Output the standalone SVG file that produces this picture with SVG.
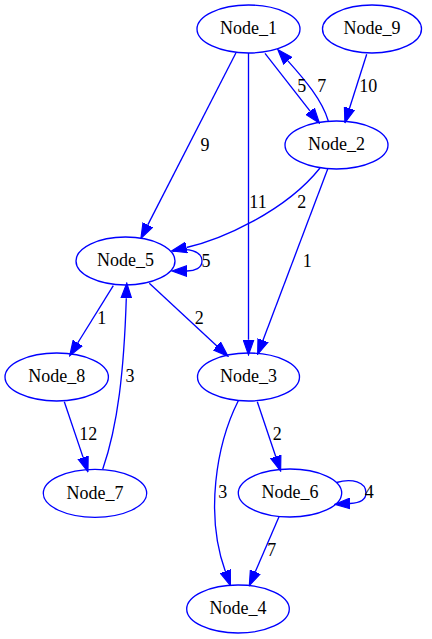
<svg xmlns="http://www.w3.org/2000/svg" width="432" height="639" viewBox="0 0 432 639">
<style>
.n ellipse{fill:none;stroke:#0000ff;stroke-width:1.33}
text{font-family:"Liberation Serif","Times New Roman",serif;font-size:18px;fill:#000;text-anchor:middle}
.e path{fill:none;stroke:#0000ff;stroke-width:1.33;marker-end:url(#ah)}
</style>
<defs>
<marker id="ah" markerUnits="userSpaceOnUse" markerWidth="16" markerHeight="12" refX="0" refY="4.7" orient="auto" viewBox="0 0 14 9.4">
<path d="M0,0 L13.3,4.7 L0,9.4 Z" fill="#0000ff" stroke="#0000ff" stroke-width="1"/>
</marker>
</defs>
<rect width="432" height="639" fill="#fff"/>
<g id="edges" class="e">
<path d="M236,52.7 L147.8,224.9"/>
<path d="M248.5,53 L248.5,339.7"/>
<path d="M265,53.3 L310.1,111.2"/>
<path d="M328.3,121 C322,100 305,80 287.9,60.9"/>
<path d="M366.7,54.3 L349.5,108.3"/>
<path d="M320,168 C285,212 220,240 186.5,247.5"/>
<path d="M327.7,169 L263,340.3"/>
<path d="M172.5,251.5 C188,247 202,251 202,261 C202,268 195,271 187,271"/>
<path d="M113.3,285.7 L77.7,343"/>
<path d="M149.3,283.3 L216.9,346"/>
<path d="M102.7,469.3 C118,425 124,370 126.3,298.3"/>
<path d="M64.3,401.7 L83.1,457.4"/>
<path d="M257.3,401.7 L275.8,456.7"/>
<path d="M238.3,400.7 C216,445 205,515 225.3,571.3"/>
<path d="M336.5,482.5 C352,478 366,482 366,493 C366,500 359,503 350,503.5"/>
<path d="M279,516.7 L255.3,571.8"/>
</g>
<g id="edge-labels">
<text x="205" y="151">9</text>
<text x="258" y="208">11</text>
<text x="301.7" y="208">2</text>
<text x="301.7" y="92.3">5</text>
<text x="321.7" y="92.3">7</text>
<text x="368.3" y="91.7">10</text>
<text x="307.3" y="266.7">1</text>
<text x="206" y="266.7">5</text>
<text x="101.7" y="324.3">1</text>
<text x="199.3" y="324.3">2</text>
<text x="130" y="381.7">3</text>
<text x="88.3" y="440">12</text>
<text x="277.3" y="440">2</text>
<text x="222.7" y="498.3">3</text>
<text x="369.3" y="498.3">4</text>
<text x="271.7" y="556">7</text>
</g>
<g id="node1" class="n"><ellipse cx="248.5" cy="29" rx="51.5" ry="24"/><text x="248.5" y="34.3">Node_1</text></g>
<g id="node9" class="n"><ellipse cx="372" cy="29" rx="49.5" ry="24"/><text x="372" y="34.3">Node_9</text></g>
<g id="node2" class="n"><ellipse cx="336.5" cy="145" rx="51.5" ry="24"/><text x="336.5" y="150.3">Node_2</text></g>
<g id="node5" class="n"><ellipse cx="125.5" cy="261" rx="49.5" ry="24"/><text x="125.5" y="266.3">Node_5</text></g>
<g id="node8" class="n"><ellipse cx="56.7" cy="377" rx="51.7" ry="24"/><text x="56.7" y="382.3">Node_8</text></g>
<g id="node3" class="n"><ellipse cx="248.5" cy="377" rx="51" ry="24"/><text x="248.5" y="382.3">Node_3</text></g>
<g id="node7" class="n"><ellipse cx="95" cy="493.3" rx="51.7" ry="24"/><text x="95" y="498.6">Node_7</text></g>
<g id="node6" class="n"><ellipse cx="290" cy="493" rx="51.7" ry="24"/><text x="290" y="498.3">Node_6</text></g>
<g id="node4" class="n"><ellipse cx="238" cy="609" rx="51.3" ry="24"/><text x="238" y="614.3">Node_4</text></g>
</svg>
